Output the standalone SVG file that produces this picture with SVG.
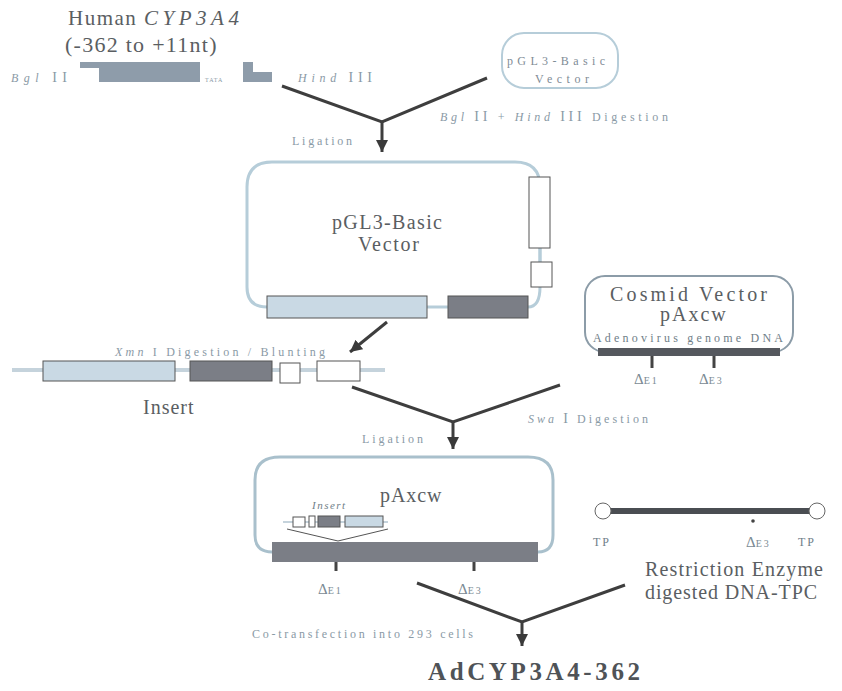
<svg xmlns="http://www.w3.org/2000/svg" width="842" height="691" viewBox="0 0 842 691">
<defs>
<marker id="ah" viewBox="0 0 10 10" refX="10" refY="5" markerWidth="4" markerHeight="4.5" orient="auto" markerUnits="strokeWidth">
<path d="M0,0 L10,5 L0,10 Z" fill="#3a3a3a"/>
</marker>
</defs>
<style>
.big{font-family:"Liberation Serif",serif;font-size:20px;fill:#5a5e62}
.sm{font-family:"Liberation Serif",serif;font-size:12px;fill:#8a9aa6}
.it{font-style:italic}
.ln{stroke:#3e3e3e;stroke-width:3;fill:none}
.outline{fill:none;stroke:#b6cdd9;stroke-width:3}
.lb{fill:#c9d9e4;stroke:#555;stroke-width:1}
.dk{fill:#7b7e86;stroke:#555;stroke-width:1}
.wh{fill:#fff;stroke:#555;stroke-width:1}
.tick{stroke:#444;stroke-width:3}
</style>
<rect width="842" height="691" fill="#fff"/>

<g id="cyp3a4">
<text x="68" y="25" class="big" style="font-size:21px;letter-spacing:1.5px">Human <tspan class="it" style="letter-spacing:4.5px">CYP3A4</tspan></text>
<text x="65" y="52" class="big" style="font-size:22px;letter-spacing:1.5px" textLength="153" lengthAdjust="spacing">(-362 to +11nt)</text>
<path d="M80,62 H200 V82 H99 V68 H80 Z" fill="#8e9caa"/>
<text x="205" y="82" class="sm" style="font-size:6px;letter-spacing:1px">TATA</text>
<path d="M243,62 H253 V72 H272 V82 H243 Z" fill="#8e9caa"/>
<text x="11" y="82" class="sm" textLength="56" lengthAdjust="spacing"><tspan class="it">Bgl</tspan> <tspan style="font-size:14px">II</tspan></text>
<text x="298" y="82" class="sm" textLength="74" lengthAdjust="spacing"><tspan class="it">Hind</tspan> <tspan style="font-size:14px">III</tspan></text>
</g>

<g id="pgl3-small">
<rect x="502" y="33" width="116" height="55" rx="22" fill="none" stroke="#b6cdd9" stroke-width="2"/>
<text x="507" y="65" class="sm" style="fill:#7f8c96" textLength="98" lengthAdjust="spacing">pGL3-Basic</text>
<text x="535" y="83" class="sm" style="fill:#7f8c96" textLength="54" lengthAdjust="spacing">Vector</text>
</g>

<g id="pgl3-vector">
<path class="outline" d="M267,307 Q247,307 247,287 V187 Q247,162 272,162 H515 Q540,162 540,187 V287 Q540,307 528,307"/>
<line x1="427" y1="307" x2="448" y2="307" stroke="#b6cdd9" stroke-width="3"/>
<line x1="540" y1="248" x2="540" y2="262" stroke="#b6cdd9" stroke-width="3"/>
<rect class="wh" x="529" y="177" width="21" height="71"/>
<rect class="wh" x="531" y="262" width="21" height="25"/>
<rect class="lb" x="267" y="296" width="160" height="22"/>
<rect class="dk" x="448" y="296" width="80" height="22"/>
<text x="332" y="229" class="big" style="letter-spacing:1px" textLength="111" lengthAdjust="spacing">pGL3-Basic</text>
<text x="358" y="251" class="big" style="letter-spacing:1px" textLength="62" lengthAdjust="spacing">Vector</text>
</g>

<g id="insert">
<line x1="12" y1="370" x2="385" y2="370" stroke="#c5d3dc" stroke-width="4"/>
<rect class="lb" x="43" y="361" width="132" height="20"/>
<rect class="dk" x="190" y="361" width="82" height="20"/>
<rect class="wh" x="280" y="363" width="20" height="20"/>
<rect class="wh" x="317" y="361" width="43" height="20"/>
<text x="143" y="414" class="big" style="letter-spacing:1px">Insert</text>
</g>

<g id="cosmid">
<rect x="585" y="276" width="208" height="76" rx="20" fill="none" stroke="#8c9ca8" stroke-width="2"/>
<text x="610" y="301" class="big" textLength="157" lengthAdjust="spacing">Cosmid Vector</text>
<text x="660" y="321" class="big" style="letter-spacing:2px">pAxcw</text>
<text x="593" y="342" class="sm" style="fill:#6f7e88" textLength="190" lengthAdjust="spacing">Adenovirus genome DNA</text>
<rect x="598" y="348" width="182" height="8" fill="#55585e"/>
<line class="tick" x1="652" y1="356" x2="652" y2="368"/>
<line class="tick" x1="714" y1="356" x2="714" y2="368"/>
<text x="634" y="384" class="sm" style="font-size:15px;fill:#7a8a94">Δ<tspan style="font-size:10px;letter-spacing:2px">E1</tspan></text>
<text x="699" y="384" class="sm" style="font-size:15px;fill:#7a8a94">Δ<tspan style="font-size:10px;letter-spacing:2px">E3</tspan></text>
</g>

<g id="paxcw">
<path class="outline" style="stroke:#a9c0cc" d="M272,552 Q255,552 255,535 V480 Q255,457 280,457 H528 Q553,457 553,480 V535 Q553,552 538,552"/>
<rect x="272" y="542" width="266" height="20" fill="#7b7e86"/>
<line class="tick" x1="336" y1="562" x2="336" y2="571"/>
<line class="tick" x1="474" y1="562" x2="474" y2="571"/>
<text x="380" y="502" class="big" style="letter-spacing:1.5px" textLength="63" lengthAdjust="spacing">pAxcw</text>
<text x="312" y="509" class="sm it" style="fill:#6f7e88;font-size:11px;letter-spacing:1.5px">Insert</text>
<line x1="283" y1="522" x2="388" y2="522" stroke="#c5d3dc" stroke-width="2"/>
<rect class="wh" x="293" y="517" width="12" height="10"/>
<rect class="wh" x="309" y="516" width="6" height="11"/>
<rect class="dk" x="318" y="516" width="22" height="11"/>
<rect class="lb" x="345" y="516" width="38" height="11"/>
<polyline points="287,529 338,541 388,529" fill="none" stroke="#555" stroke-width="1"/>
<text x="318" y="594" class="sm" style="font-size:15px;fill:#7a8a94">Δ<tspan style="font-size:10px;letter-spacing:2px">E1</tspan></text>
<text x="458" y="594" class="sm" style="font-size:15px;fill:#7a8a94">Δ<tspan style="font-size:10px;letter-spacing:2px">E3</tspan></text>
</g>

<g id="dna-tpc">
<line x1="603" y1="511" x2="817" y2="511" stroke="#4a4d52" stroke-width="6"/>
<circle cx="603" cy="511" r="8" fill="#fff" stroke="#666" stroke-width="1"/>
<circle cx="817" cy="511" r="8" fill="#fff" stroke="#666" stroke-width="1"/>
<circle cx="753" cy="521" r="1.8" fill="#444"/>
<text x="593" y="546" class="sm" style="fill:#6f7e88;letter-spacing:2px">TP</text>
<text x="746" y="547" class="sm" style="font-size:15px;fill:#7a8a94">Δ<tspan style="font-size:10px;letter-spacing:2px">E3</tspan></text>
<text x="798" y="546" class="sm" style="fill:#6f7e88;letter-spacing:2px">TP</text>
<text x="645" y="576" class="big" textLength="178" lengthAdjust="spacing">Restriction Enzyme</text>
<text x="645" y="599" class="big" textLength="172" lengthAdjust="spacing">digested DNA-TPC</text>
</g>

<g id="product">
<text x="428" y="680" class="big" style="font-weight:bold;font-size:25px;fill:#4f5357" textLength="212" lengthAdjust="spacing">AdCYP3A4-362</text>
</g>

<g id="connectors">
<polyline class="ln" points="282,86 382,122 487,78"/>
<line class="ln" x1="382" y1="122" x2="382" y2="152" marker-end="url(#ah)"/>
<line class="ln" x1="387" y1="322" x2="350" y2="352" marker-end="url(#ah)"/>
<polyline class="ln" points="352,387 453,422 560,385"/>
<line class="ln" x1="453" y1="422" x2="453" y2="449" marker-end="url(#ah)"/>
<polyline class="ln" points="417,583 522,622 625,585"/>
<line class="ln" x1="522" y1="622" x2="522" y2="646" marker-end="url(#ah)"/>
<text x="292" y="145" class="sm" textLength="60" lengthAdjust="spacing">Ligation</text>
<text x="440" y="121" class="sm" textLength="228" lengthAdjust="spacing"><tspan class="it">Bgl</tspan> <tspan style="font-size:14px">II</tspan> + <tspan class="it">Hind</tspan> <tspan style="font-size:14px">III</tspan> Digestion</text>
<text x="115" y="356" class="sm" textLength="210" lengthAdjust="spacing"><tspan class="it">Xmn</tspan> I Digestion / Blunting</text>
<text x="362" y="443" class="sm" textLength="61" lengthAdjust="spacing">Ligation</text>
<text x="528" y="423" class="sm" textLength="120" lengthAdjust="spacing"><tspan class="it">Swa</tspan> <tspan style="font-size:14px">I</tspan> Digestion</text>
<text x="252" y="638" class="sm" textLength="221" lengthAdjust="spacing">Co-transfection into 293 cells</text>
</g>
</svg>
